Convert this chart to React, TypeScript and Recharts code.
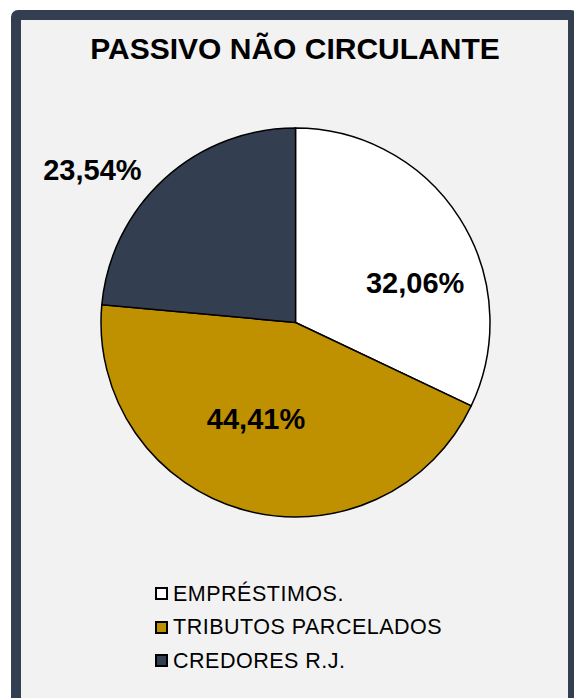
import React from 'react';
import { PieChart, Pie, Cell, Legend } from 'recharts';

const CATEGORIES = ['EMPRÉSTIMOS.', 'TRIBUTOS PARCELADOS', 'CREDORES R.J.'];
const VALUES = [32.06, 44.41, 23.54];
const LABELS = ['32,06%', '44,41%', '23,54%'];
const COLORS = ['#ffffff', '#bf9000', '#333f50'];
const TITLE = 'PASSIVO NÃO CIRCULANTE';

// label placement (angle clockwise from 12 o'clock, distance from centre)
const LABEL_POS = [
  { angle: 71.7, r: 126 },
  { angle: 202.3, r: 104 },
  { angle: 306.9, r: 254 },
];

const data = CATEGORIES.map((name, i) => ({ name, value: VALUES[i] }));

const FONT = 'Arial, "Liberation Sans", sans-serif';

const renderLabel = (props: any) => {
  const { cx, cy, index } = props;
  const p = LABEL_POS[index];
  const rad = (p.angle * Math.PI) / 180;
  const x = cx + p.r * Math.sin(rad);
  const y = cy - p.r * Math.cos(rad);
  return (
    <text
      x={x}
      y={y}
      textAnchor="middle"
      dominantBaseline="central"
      fontFamily={FONT}
      fontWeight="bold"
      fontSize={29}
      fill="#000"
    >
      {LABELS[index]}
    </text>
  );
};

const renderLegend = () => (
  <div style={{ fontFamily: FONT }}>
    {CATEGORIES.map((c, i) => (
      <div key={c} style={{ display: 'flex', alignItems: 'center', height: 33.5 }}>
        <div
          style={{
            width: 9,
            height: 9,
            background: COLORS[i],
            border: '2px solid #000',
            marginRight: 5,
          }}
        />
        <span style={{ fontSize: 21.5, letterSpacing: 0.5, color: '#000', lineHeight: '22px' }}>{c}</span>
      </div>
    ))}
  </div>
);

export default function App() {
  return (
    <div
      style={{
        position: 'absolute',
        left: 0,
        top: 0,
        width: 574,
        height: 698,
        overflow: 'hidden',
        background: '#ffffff',
      }}
    >
      <div
        style={{
          position: 'absolute',
          left: 11,
          top: 10,
          width: 567,
          height: 700,
          boxSizing: 'border-box',
          border: '10px solid #333f50',
          borderRadius: 7,
          background: '#f2f2f2',
        }}
      />
      <div
        style={{
          position: 'absolute',
          left: 0,
          top: 31,
          width: 590,
          textAlign: 'center',
          fontFamily: FONT,
          fontWeight: 'bold',
          fontSize: 30,
          lineHeight: '36px',
          color: '#000',
        }}
      >
        {TITLE}
      </div>
      <div style={{ position: 'absolute', left: 0, top: 0 }}>
        <PieChart width={574} height={698} margin={{ top: 0, right: 0, bottom: 0, left: 0 }}>
          <Pie
            data={data}
            dataKey="value"
            nameKey="name"
            cx={295.5}
            cy={322.5}
            outerRadius={194.5}
            startAngle={90}
            endAngle={-270}
            stroke="#000"
            strokeWidth={1.5}
            label={renderLabel}
            labelLine={false}
            isAnimationActive={false}
          >
            {data.map((d, i) => (
              <Cell key={d.name} fill={COLORS[i]} />
            ))}
          </Pie>
          <Legend
            content={renderLegend}
            wrapperStyle={{ position: 'absolute', left: 155, top: 577, width: 320 }}
          />
        </PieChart>
      </div>
    </div>
  );
}
